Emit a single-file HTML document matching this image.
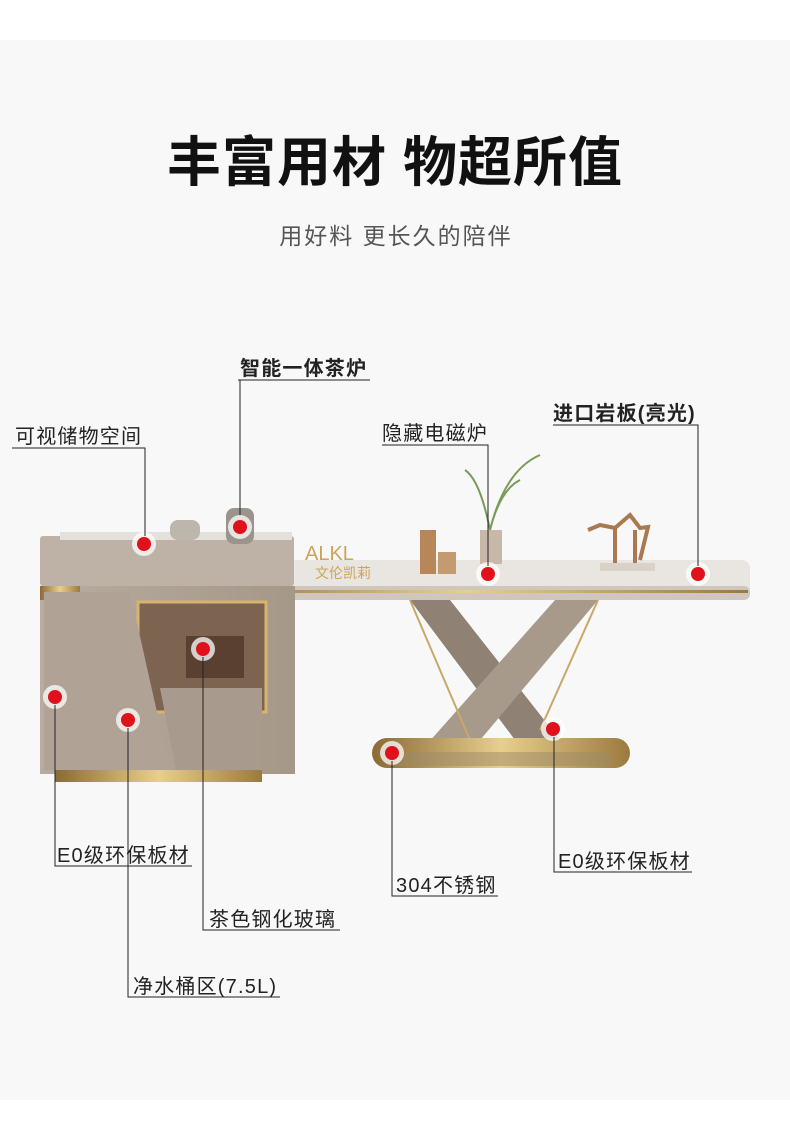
<!DOCTYPE html>
<html><head><meta charset="utf-8"><style>
body{margin:0;width:790px;height:1144px;background:#fff;overflow:hidden;font-family:"Liberation Sans","Noto Sans CJK SC",sans-serif}
svg{display:block}
</style></head><body>
<svg width="790" height="1144" viewBox="0 0 790 1144" xmlns="http://www.w3.org/2000/svg" font-family="Liberation Sans, Noto Sans CJK SC, sans-serif">
<defs>
<linearGradient id="gold" x1="0" x2="1"><stop offset="0" stop-color="#8a6a35"/><stop offset=".5" stop-color="#e8cf8e"/><stop offset="1" stop-color="#9c7a3e"/></linearGradient>
<linearGradient id="body" x1="0" x2="1"><stop offset="0" stop-color="#b8aca0"/><stop offset="1" stop-color="#a59888"/></linearGradient>
</defs>
<rect x="0" y="40" width="790" height="1060" fill="#f8f8f8"/>
<text x="395" y="181" text-anchor="middle" font-size="54" font-weight="bold" fill="#111" letter-spacing="1">丰富用材 物超所值</text>
<text x="396" y="244" text-anchor="middle" font-size="23" fill="#555" letter-spacing="2">用好料 更长久的陪伴</text>

<rect x="180" y="560" width="570" height="40" rx="8" fill="#e9e6e2"/>
<rect x="180" y="586" width="570" height="14" rx="6" fill="#cfc7bd"/>
<rect x="182" y="590" width="566" height="3" fill="url(#gold)"/>
<polygon points="410,600 450,600 560,740 515,740" fill="#8f8275"/>
<polygon points="555,600 598,600 470,752 420,752" fill="#a89a8b"/>
<line x1="410" y1="600" x2="470" y2="740" stroke="#c9a868" stroke-width="2"/>
<line x1="598" y1="600" x2="540" y2="730" stroke="#c9a868" stroke-width="2"/>
<rect x="372" y="738" width="258" height="30" rx="15" fill="url(#gold)"/>
<rect x="395" y="752" width="215" height="14" fill="#9c8a6a" opacity=".5"/>
<rect x="420" y="530" width="16" height="44" fill="#b7875a"/>
<rect x="438" y="552" width="18" height="22" fill="#c49a70"/>
<rect x="480" y="530" width="22" height="34" fill="#c8b8a8"/>
<path d="M490 530 Q480 480 465 470 M490 530 Q505 470 540 455 M490 530 Q500 490 520 480" stroke="#7a9a5a" stroke-width="2" fill="none"/>
<path d="M588 530 L600 525 L615 528 L630 515 L640 528 L648 527 L640 560 M615 528 L615 565 M635 530 L635 565" stroke="#a97a50" stroke-width="4" fill="none"/>
<rect x="600" y="563" width="55" height="8" fill="#d8d2c8"/>
<text x="305" y="560" font-size="20" fill="#caa55a">ALKL</text>
<text x="315" y="578" font-size="14" fill="#caa55a">文伦凯莉</text>
<rect x="40" y="536" width="254" height="50" rx="3" fill="#beb2a6"/>
<rect x="60" y="532" width="232" height="8" fill="#e4e0dc"/>
<rect x="170" y="520" width="30" height="20" rx="8" fill="#bdb6ad"/>
<rect x="226" y="508" width="28" height="36" rx="8" fill="#9a948c"/>
<rect x="40" y="586" width="255" height="188" fill="url(#body)"/>
<rect x="40" y="586" width="40" height="14" fill="url(#gold)"/>
<rect x="138" y="602" width="128" height="110" fill="#7c6450" stroke="#d6b470" stroke-width="3"/>
<rect x="186" y="636" width="58" height="42" fill="#5a4030"/>
<polygon points="44,592 130,592 170,770 44,770" fill="#b0a396"/>
<polygon points="160,688 262,688 262,770 176,770" fill="#a89a8c"/>
<rect x="55" y="770" width="207" height="12" fill="url(#gold)"/>

<g fill="#fff" opacity=".75">
<circle cx="144" cy="544" r="12"/><circle cx="240" cy="527" r="12"/><circle cx="488" cy="574" r="12"/><circle cx="698" cy="574" r="12"/>
<circle cx="203" cy="649" r="12"/><circle cx="55" cy="697" r="12"/><circle cx="128" cy="720" r="12"/><circle cx="392" cy="753" r="12"/><circle cx="553" cy="729" r="12"/>
</g>
<g fill="#e0111a">
<circle cx="144" cy="544" r="7"/><circle cx="240" cy="527" r="7"/><circle cx="488" cy="574" r="7"/><circle cx="698" cy="574" r="7"/>
<circle cx="203" cy="649" r="7"/><circle cx="55" cy="697" r="7"/><circle cx="128" cy="720" r="7"/><circle cx="392" cy="753" r="7"/><circle cx="553" cy="729" r="7"/>
</g>

<g stroke="#222" stroke-width="1" fill="none">
<path d="M238 380H370 M240 380V515"/>
<path d="M12 448H145V536"/>
<path d="M382 445H488V566"/>
<path d="M553 425H698V566"/>
<path d="M55 705V866H192"/>
<path d="M203 657V930H340"/>
<path d="M128 728V997H280"/>
<path d="M392 761V896H498"/>
<path d="M554 737V872H692"/>
</g>
<g font-size="20" fill="#222" letter-spacing="1.2">
<text x="240" y="375" font-weight="bold">智能一体茶炉</text>
<text x="15" y="443">可视储物空间</text>
<text x="382" y="440">隐藏电磁炉</text>
<text x="553" y="420" font-weight="bold">进口岩板(亮光)</text>
<text x="57" y="862">E0级环保板材</text>
<text x="209" y="926">茶色钢化玻璃</text>
<text x="133" y="993">净水桶区(7.5L)</text>
<text x="396" y="892">304不锈钢</text>
<text x="558" y="868">E0级环保板材</text>
</g>
</svg>
</body></html>
